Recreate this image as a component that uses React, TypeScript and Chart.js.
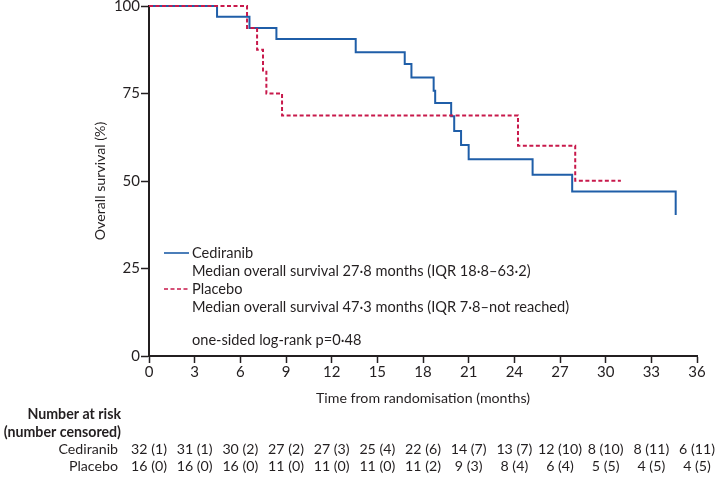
import React, { useEffect, useRef } from "react";
import { Chart, registerables } from "chart.js";

Chart.register(...registerables);

// Kaplan–Meier step data (time in months, survival %)
const cedTimes = [0, 4.47, 6.6, 8.37, 13.58, 16.8, 17.24, 18.7, 18.8, 19.85, 20.05, 20.5, 21.0, 25.2, 27.8, 34.6];
const cedSurv = [100, 96.9, 93.75, 90.6, 86.8, 83.4, 79.6, 75.8, 72.3, 68.5, 64.3, 60.3, 56.2, 51.8, 47.0, 40.3];
const plaTimes = [0, 6.44, 7.1, 7.49, 7.71, 8.74, 24.24, 28.0, 31.0];
const plaSurv = [100, 93.75, 87.5, 81.25, 75, 68.75, 60.1, 50.1, 50.1];

const xTickValues = [0, 3, 6, 9, 12, 15, 18, 21, 24, 27, 30, 33, 36];
const cedRisk = ["32 (1)", "31 (1)", "30 (2)", "27 (2)", "27 (3)", "25 (4)", "22 (6)", "14 (7)", "13 (7)", "12 (10)", "8 (10)", "8 (11)", "6 (11)"];
const plaRisk = ["16 (0)", "16 (0)", "16 (0)", "11 (0)", "11 (0)", "11 (0)", "11 (2)", "9 (3)", "8 (4)", "6 (4)", "5 (5)", "4 (5)", "4 (5)"];

const seriesNames = ["Cediranib", "Placebo"];
const legendNotes = [
  "Median overall survival 27·8 months (IQR 18·8–63·2)",
  "Median overall survival 47·3 months (IQR 7·8–not reached)",
];
const pValueText = "one-sided log-rank p=0·48";
const xTitle = "Time from randomisation (months)";
const yTitle = "Overall survival (%)";

const BLUE = "#1f5ea8";
const RED = "#c8194b";
const TEXT = "#231f20";
const FONT = "Lato";

const annotPlugin = {
  id: "annot",
  afterDraw(chart: any) {
    const ctx = chart.ctx as CanvasRenderingContext2D;
    const xs = chart.scales.x;
    const area = chart.chartArea;
    ctx.save();
    ctx.fillStyle = TEXT;
    ctx.textBaseline = "middle";
    ctx.font = `14.2px ${FONT}`;

    // axis titles
    ctx.textAlign = "center";
    ctx.fillText(xTitle, (area.left + area.right) / 2, 398);
    ctx.save();
    ctx.translate(100, (area.top + area.bottom) / 2);
    ctx.rotate(-Math.PI / 2);
    ctx.fillText(yTitle, 0, 0);
    ctx.restore();

    // legend
    ctx.font = `14.6px ${FONT}`;
    const lx0 = 164, lx1 = 189, tx = 192;
    ctx.lineWidth = 1.6;
    ctx.strokeStyle = BLUE;
    ctx.setLineDash([]);
    ctx.beginPath(); ctx.moveTo(lx0, 253); ctx.lineTo(lx1, 253); ctx.stroke();
    ctx.strokeStyle = RED;
    ctx.setLineDash([4, 2.5]);
    ctx.beginPath(); ctx.moveTo(lx0, 289); ctx.lineTo(lx1, 289); ctx.stroke();
    ctx.setLineDash([]);
    ctx.textAlign = "left";
    ctx.fillText(seriesNames[0], tx, 253);
    ctx.fillText(legendNotes[0], tx, 271);
    ctx.fillText(seriesNames[1], tx, 289);
    ctx.fillText(legendNotes[1], tx, 307);
    ctx.fillText(pValueText, tx, 340);

    // number at risk table
    ctx.textAlign = "right";
    ctx.font = `bold 14.2px ${FONT}`;
    ctx.fillText("Number at risk", 121, 414);
    ctx.fillText("(number censored)", 121, 432);
    ctx.font = `14.2px ${FONT}`;
    ctx.fillText(seriesNames[0], 118, 449);
    ctx.fillText(seriesNames[1], 118, 466);
    ctx.textAlign = "center";
    xTickValues.forEach((t, i) => {
      const px = xs.getPixelForValue(t);
      ctx.fillText(cedRisk[i], px, 449);
      ctx.fillText(plaRisk[i], px, 466);
    });
    ctx.restore();
  },
};

export default function App() {
  const ref = useRef<HTMLCanvasElement>(null);
  useEffect(() => {
    if (!ref.current) return;
    const chart = new Chart(ref.current, {
      type: "line",
      data: {
        datasets: [
          {
            label: seriesNames[0],
            data: cedTimes.map((t, i) => ({ x: t, y: cedSurv[i] })),
            borderColor: BLUE,
            borderWidth: 2,
            stepped: "before",
            pointRadius: 0,
            fill: false,
            clip: 5,
            order: 1,
          },
          {
            label: seriesNames[1],
            data: plaTimes.map((t, i) => ({ x: t, y: plaSurv[i] })),
            borderColor: RED,
            borderWidth: 2,
            borderDash: [4, 2.5],
            stepped: "before",
            pointRadius: 0,
            fill: false,
            clip: 5,
            order: 0,
          },
        ],
      },
      options: {
        responsive: false,
        animation: false,
        layout: { padding: { left: 0, right: 19, top: 6, bottom: 0 } },
        plugins: { legend: { display: false }, tooltip: { enabled: false } },
        scales: {
          x: {
            type: "linear",
            min: 0,
            max: 36,
            afterFit: (s: any) => { s.height = 124; s.paddingLeft = 0; s.paddingRight = 0; },
            afterBuildTicks: (s: any) => { s.ticks = xTickValues.map((v) => ({ value: v })); },
            ticks: { color: TEXT, font: { family: FONT, size: 15 }, padding: 0, maxRotation: 0, autoSkip: false },
            grid: { display: true, drawOnChartArea: false, drawTicks: true, tickLength: 7, tickColor: TEXT, tickWidth: 1.5, color: TEXT },
            border: { display: true, color: TEXT, width: 2 },
          },
          y: {
            type: "linear",
            min: 0,
            max: 100,
            afterFit: (s: any) => { s.width = 149; s.paddingTop = 0; s.paddingBottom = 0; },
            ticks: { stepSize: 25, color: TEXT, font: { family: FONT, size: 15 }, padding: 1 },
            grid: { display: true, drawOnChartArea: false, drawTicks: true, tickLength: 8, tickColor: TEXT, tickWidth: 1.5, color: TEXT },
            border: { display: true, color: TEXT, width: 2 },
          },
        },
      },
      plugins: [annotPlugin],
    });
    return () => chart.destroy();
  }, []);
  return (
    <div style={{ position: "fixed", left: 0, top: 0, width: 716, height: 480, background: "#fff" }}>
      <canvas ref={ref} width={716} height={480} />
    </div>
  );
}
